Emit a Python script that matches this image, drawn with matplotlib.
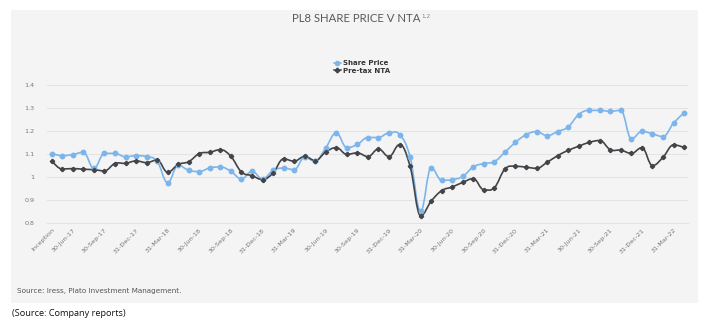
import numpy as np
import matplotlib
matplotlib.use("Agg")
import matplotlib.pyplot as plt
from matplotlib.path import Path
from matplotlib.patches import PathPatch, Rectangle
from matplotlib.lines import Line2D

# ---- data (monthly, Apr-17 "Inception" to Apr-22) ----
share_price = [1.103, 1.094, 1.099, 1.109, 1.039, 1.104, 1.104, 1.089, 1.094, 1.090, 1.070, 0.977,
               1.052, 1.030, 1.025, 1.041, 1.045, 1.026, 0.993, 1.026, 0.993, 1.030, 1.040,
               1.033, 1.087, 1.070, 1.128, 1.193, 1.129, 1.143, 1.173, 1.173, 1.193, 1.186,
               1.089, 0.852, 1.041, 0.987, 0.990, 1.004, 1.045, 1.060, 1.068, 1.109, 1.152, 1.185,
               1.199, 1.181, 1.199, 1.219, 1.273, 1.291, 1.291, 1.287, 1.291, 1.167, 1.200, 1.189,
               1.177, 1.236, 1.280]
pretax_nta = [1.070, 1.036, 1.038, 1.035, 1.033, 1.028, 1.060, 1.061, 1.071, 1.064, 1.075, 1.022,
              1.056, 1.068, 1.103, 1.109, 1.120, 1.091, 1.023, 1.007, 0.990, 1.019, 1.080,
              1.070, 1.091, 1.073, 1.110, 1.129, 1.100, 1.106, 1.090, 1.123, 1.090, 1.142,
              1.048, 0.833, 0.896, 0.942, 0.958, 0.978, 0.994, 0.946, 0.955, 1.036, 1.048, 1.044,
              1.039, 1.065, 1.094, 1.117, 1.135, 1.152, 1.160, 1.120, 1.118, 1.104, 1.129, 1.051,
              1.087, 1.141, 1.130]
tick_index = [0, 2, 5, 8, 11, 14, 17, 20, 23, 26, 29, 32, 35, 38, 41, 44, 47, 50, 53, 56, 59]
tick_labels = ["Inception", "30-Jun-17", "30-Sep-17", "31-Dec-17", "31-Mar-18", "30-Jun-18",
               "30-Sep-18", "31-Dec-18", "31-Mar-19", "30-Jun-19", "30-Sep-19", "31-Dec-19",
               "31-Mar-20", "30-Jun-20", "30-Sep-20", "31-Dec-20", "31-Mar-21", "30-Jun-21",
               "30-Sep-21", "31-Dec-21", "31-Mar-22"]
y_ticks = [0.8, 0.9, 1.0, 1.1, 1.2, 1.3, 1.4]
y_tick_labels = ["0.8", "0.9", "1", "1.1", "1.2", "1.3", "1.4"]

BLUE = "#7cb5ec"
DARK = "#434348"

W, H = 711, 324
fig = plt.figure(figsize=(W / 100, H / 100), dpi=100)
fig.patch.set_facecolor("white")
fig.patches.append(Rectangle((11 / W, 1 - 303 / H), 687 / W, 293 / H, transform=fig.transFigure,
                             facecolor="#f4f4f4", edgecolor="none", zorder=-10))

ax = fig.add_axes([47.3 / W, 1 - 223.3 / H, (688 - 47.3) / W, (223.3 - 85.3) / H])
ax.set_facecolor("none")
ax.set_zorder(1)


def spline_path(xs, ys, k=1 / 5.0):
    xs = np.asarray(xs, float)
    ys = np.asarray(ys, float)
    n = len(xs)
    verts = [(xs[0], ys[0])]
    codes = [Path.MOVETO]
    for i in range(n - 1):
        x0, y0 = xs[i], ys[i]
        x1, y1 = xs[i + 1], ys[i + 1]
        xp, yp = (xs[i - 1], ys[i - 1]) if i > 0 else (x0, y0)
        xn, yn = (xs[i + 2], ys[i + 2]) if i + 2 < n else (x1, y1)
        c1 = (x0 + (x1 - xp) * k, y0 + (y1 - yp) * k)
        c2 = (x1 - (xn - x0) * k, y1 - (yn - y0) * k)
        if i > 0 and (y0 - yp) * (y1 - y0) <= 0:
            c1 = (c1[0], y0)
        if i + 2 < n and (y1 - y0) * (yn - y1) <= 0:
            c2 = (c2[0], y1)
        verts += [c1, c2, (x1, y1)]
        codes += [Path.CURVE4, Path.CURVE4, Path.CURVE4]
    return Path(verts, codes)


x = np.arange(len(share_price))
ax.add_patch(PathPatch(spline_path(x, share_price), facecolor="none", edgecolor=BLUE, lw=1.2, zorder=3))
ax.add_patch(PathPatch(spline_path(x, pretax_nta), facecolor="none", edgecolor=DARK, lw=1.2, zorder=4))
ax.plot(x, share_price, linestyle="none", marker="o", ms=3.2, color=BLUE, zorder=5)
ax.plot(x, pretax_nta, linestyle="none", marker="P", ms=2.8, color=DARK, zorder=6)

ax.set_xlim(-0.42, 60.37)
ax.set_ylim(0.8, 1.4)
ax.set_yticks(y_ticks)
ax.set_yticklabels(y_tick_labels)
ax.set_xticks(tick_index)
ax.set_xticklabels(tick_labels, rotation=45, ha="right", rotation_mode="anchor")
ax.tick_params(axis="y", length=0, pad=9, labelsize=4.6, labelcolor="#777777")
ax.tick_params(axis="x", length=0, pad=3, labelsize=4.6, labelcolor="#777777")
for s in ["top", "right", "left"]:
    ax.spines[s].set_visible(False)
ax.spines["bottom"].set_color("#dde3ef")
ax.spines["bottom"].set_linewidth(0.8)
ax.grid(axis="y", color="#e3e3e3", lw=0.7)
ax.set_axisbelow(True)

# title with superscript
title = fig.text(356 / W, 1 - 19 / H, "PL8 SHARE PRICE V NTA", ha="center", va="center",
                 fontsize=8.2, color="#5a5a5a", family="Lato", fontweight="normal")
fig.canvas.draw()
bb = title.get_window_extent()
fig.text(bb.x1 / W + 0.002, bb.y1 / H - 0.010, "1,2", ha="left", va="center",
         fontsize=4.2, color="#888888", family="DejaVu Sans")

# legend
handles = [Line2D([], [], color=BLUE, marker="o", ms=3.0, lw=1.1),
           Line2D([], [], color=DARK, marker="P", ms=3.0, lw=1.1)]
leg = fig.legend(handles, ["Share Price", "Pre-tax NTA"], loc="center",
                 bbox_to_anchor=(362 / W, 1 - 67 / H), frameon=False, fontsize=5,
                 handlelength=1.0, handletextpad=0.4, labelspacing=0.25, borderpad=0)
for t in leg.get_texts():
    t.set_color("#333333")
    t.set_fontweight("bold")

fig.text(17 / W, 1 - 291 / H, "Source: Iress, Plato Investment Management.", ha="left", va="center",
         fontsize=5.2, color="#555555")
fig.text(12 / W, 1 - 313 / H, "(Source: Company reports)", ha="left", va="center",
         fontsize=6.6, color="#111111", family="Open Sans")

fig.savefig("out.png", dpi=100)
